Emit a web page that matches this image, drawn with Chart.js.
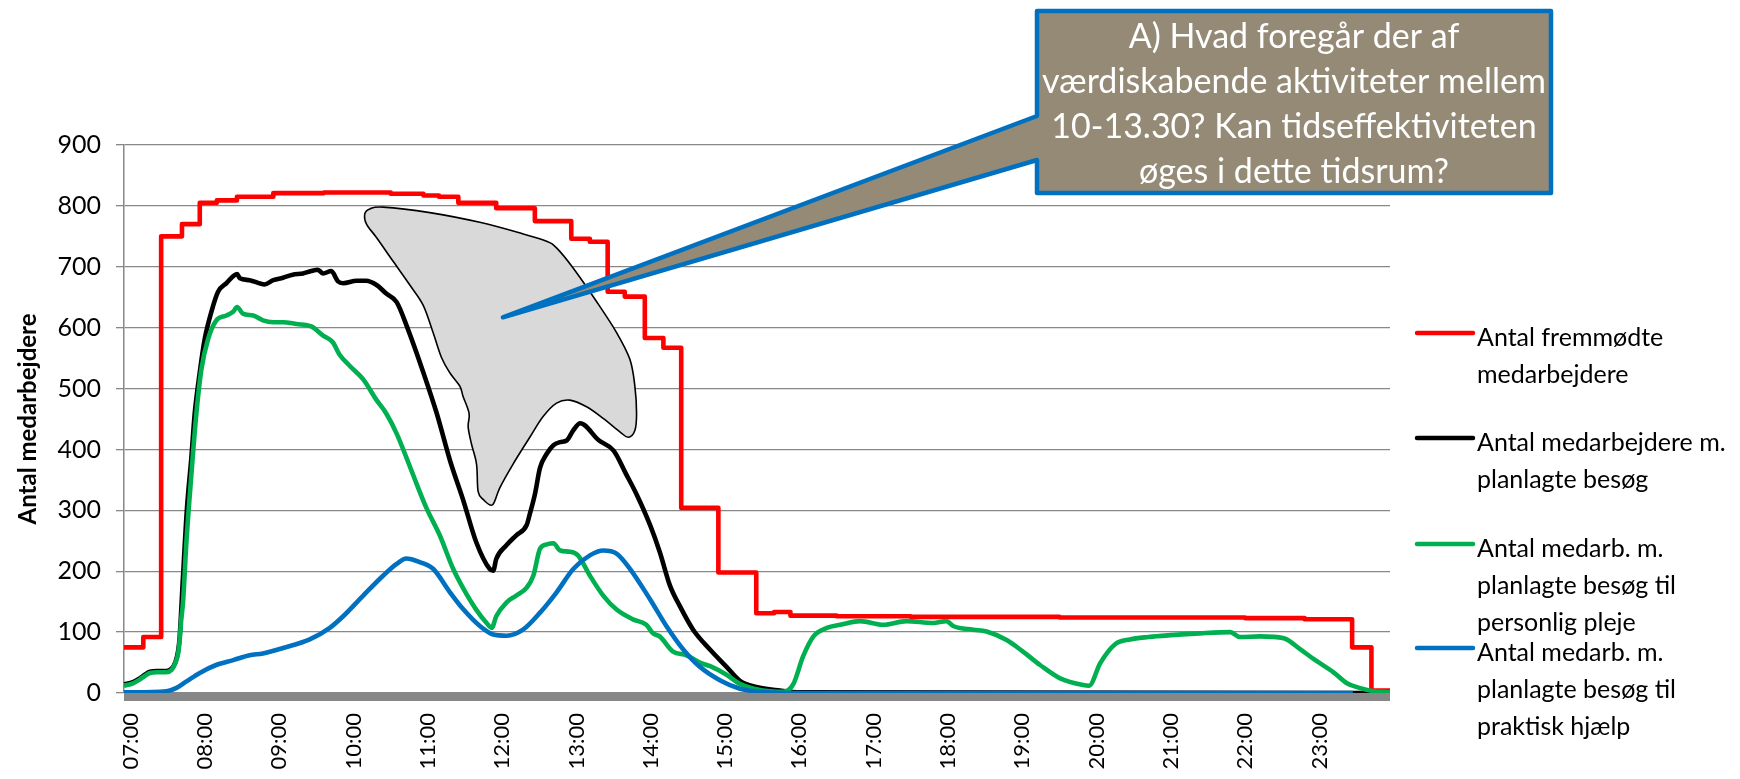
<!DOCTYPE html>
<html lang="da">
<head>
<meta charset="utf-8">
<title>Antal medarbejdere</title>
<script src="https://cdn.jsdelivr.net/npm/chart.js@4.4.1/dist/chart.umd.min.js"></script>
<style>
  html, body { margin: 0; padding: 0; background: #fff; overflow: hidden; }
  #wrap { width: 1740px; height: 779px; }
</style>
</head>
<body>
<div id="wrap"><canvas id="chart" width="1740" height="779"></canvas></div>
<script>
// --- Akser ---
const tickLabels = ['07:00', '08:00', '09:00', '10:00', '11:00', '12:00', '13:00', '14:00', '15:00',
  '16:00', '17:00', '18:00', '19:00', '20:00', '21:00', '22:00', '23:00'];
const yTitle = 'Antal medarbejdere';

// --- Serier (tid i timer, antal) ---
const legendLabels = [
  ['Antal fremmødte', 'medarbejdere'],
  ['Antal medarbejdere m.', 'planlagte besøg'],
  ['Antal medarb. m.', 'planlagte besøg til', 'personlig pleje'],
  ['Antal medarb. m.', 'planlagte besøg til', 'praktisk hjælp']
];

const redTimes = [6.91, 7.17, 7.41, 7.69, 7.93, 8.16, 8.43, 8.92, 9.6, 10.5, 10.94, 11.15, 11.41, 11.92,
  12.44, 12.93, 13.18, 13.42, 13.65, 13.92, 14.17, 14.41, 14.91, 15.42, 15.66, 15.88, 16.5, 17.5, 19.5,
  22.0, 22.8, 23.44, 23.70, 23.95];
const redValues = [75, 92, 750, 770, 805, 809, 815, 821, 822, 820, 817, 815, 805, 796,
  775, 746, 741, 659, 651, 583, 567, 304, 198, 131, 133, 127, 126, 125, 124,
  123, 121, 75, 4, 4];

const blackTimes = [6.91, 7.03, 7.12, 7.19, 7.26, 7.35, 7.48, 7.55, 7.6, 7.64, 7.66, 7.705, 7.758, 7.817,
  7.862, 7.929, 7.996, 8.086, 8.176, 8.288, 8.432, 8.47, 8.6, 8.8, 8.92, 9.05, 9.18, 9.32, 9.43, 9.52,
  9.59, 9.70, 9.79, 9.86, 10.04, 10.17, 10.31, 10.44, 10.58, 10.73, 10.94, 11.12, 11.30, 11.48, 11.65,
  11.83, 11.88, 11.92, 12.06, 12.19, 12.33, 12.37, 12.44, 12.51, 12.6, 12.69, 12.78, 12.87, 12.96, 13.05,
  13.3, 13.5, 13.67, 13.81, 13.99, 14.12, 14.26, 14.39, 14.57, 14.8, 15.02, 15.2, 15.42, 15.74, 16.0, 23.95];
const blackValues = [14, 18, 24, 30, 35, 36, 36, 40, 50, 70, 93, 193, 304, 387,
  459, 526, 581, 626, 659, 673, 688, 681, 678, 671, 678, 682, 687, 689, 693, 695,
  689, 693, 676, 673, 677, 677, 670, 656, 642, 598, 526, 459, 381, 315, 248,
  204, 201, 220, 243, 259, 276, 293, 326, 370, 393, 407, 412, 415, 432, 443,
  415, 398, 359, 326, 276, 232, 176, 143, 104, 71, 43, 20, 10, 4, 1, 0];

const greenTimes = [6.91, 7.03, 7.12, 7.19, 7.26, 7.35, 7.48, 7.55, 7.59, 7.64, 7.66, 7.68, 7.705, 7.75,
  7.817, 7.884, 7.951, 8.041, 8.153, 8.288, 8.378, 8.432, 8.51, 8.65, 8.78, 8.92, 9.05, 9.23, 9.43, 9.59,
  9.72, 9.81, 9.95, 10.13, 10.31, 10.44, 10.58, 10.71, 10.85, 10.98, 11.16, 11.34, 11.48, 11.65, 11.79,
  11.86, 11.92, 12.06, 12.19, 12.33, 12.42, 12.51, 12.6, 12.69, 12.78, 12.91, 13.02, 13.18, 13.36, 13.54,
  13.76, 13.94, 14.03, 14.12, 14.30, 14.48, 14.66, 14.80, 15.02, 15.2, 15.47, 15.78, 15.92, 16.05, 16.19,
  16.37, 16.55, 16.82, 17.13, 17.44, 17.8, 17.98, 18.07, 18.34, 18.52, 18.79, 19.01, 19.24, 19.51, 19.82,
  19.9, 20.05, 20.25, 20.45, 20.7, 21.0, 21.39, 21.8, 21.93, 22.2, 22.52, 22.74, 22.92, 23.19, 23.37,
  23.55, 23.73, 23.95];
const greenValues = [12, 16, 22, 28, 33, 34, 34, 38, 46, 66, 88, 120, 150, 248,
  359, 459, 531, 581, 612, 620, 626, 634, 623, 620, 612, 609, 609, 606, 602, 587,
  576, 556, 537, 515, 481, 459, 426, 387, 343, 304, 259, 204, 171, 137, 115,
  107, 126, 149, 160, 173, 193, 237, 244, 246, 234, 232, 226, 193, 160, 137,
  121, 112, 98, 93, 68, 62, 50, 44, 30, 15, 5, 2, 15, 60, 93,
  107, 112, 118, 112, 118, 115, 118, 110, 104, 101, 87, 68, 46, 24, 13,
  12, 49, 80, 88, 92, 95, 98, 100, 92, 93, 90, 72, 56, 34, 16,
  8, 3, 1];

const blueTimes = [6.91, 7.48, 7.61, 7.75, 7.93, 8.15, 8.38, 8.6, 8.78, 9.05, 9.41, 9.68, 9.86, 10.13,
  10.40, 10.58, 10.71, 10.89, 11.07, 11.30, 11.48, 11.70, 11.88, 12.06, 12.28, 12.51, 12.73, 12.96, 13.18,
  13.36, 13.54, 13.72, 13.99, 14.21, 14.44, 14.66, 14.93, 15.2, 15.47, 16.0, 23.45];
const blueValues = [1, 3, 8, 19, 33, 46, 54, 62, 65, 74, 88, 107, 126, 160,
  193, 212, 221, 215, 204, 165, 137, 110, 96, 94, 104, 132, 165, 204, 226,
  234, 229, 204, 154, 110, 71, 43, 21, 7, 2, 0, 0];

// --- Markering og kommentar (i timer / antal) ---
const blobHours = [10.151, 10.218, 10.397, 11.026, 11.699, 12.282, 12.597, 12.732, 12.955, 13.270, 13.540,
  13.719, 13.786, 13.809, 13.786, 13.696, 13.584, 13.359, 13.136, 12.911, 12.732, 12.551, 12.372, 12.147,
  11.968, 11.870, 11.744, 11.676, 11.655, 11.587, 11.542, 11.555, 11.474, 11.430, 11.295, 11.183, 11.070,
  10.936, 10.757, 10.532, 10.308, 10.174];
const blobValues = [787, 795, 798, 789, 773, 754, 742, 731, 698, 643, 592,
  548, 504, 459, 431, 420, 429, 451, 470, 481, 476, 454, 420, 376,
  337, 309, 318, 331, 376, 409, 437, 459, 487, 504, 526, 551, 592,
  637, 670, 709, 748, 770];
const calloutTip = { hour: 12.01, value: 617 };
const calloutLines = ['A) Hvad foregår der af', 'værdiskabende aktiviteter mellem',
  '10-13.30? Kan tidseffektiviteten', 'øges i dette tidsrum?'];

const FONT = 'Lato, "Open Sans", sans-serif';
Chart.defaults.font.family = FONT;
Chart.defaults.color = '#000';

function toPoints(times, values) {
  return times.map((t, i) => ({ x: t, y: values[i] }));
}

// tyk grå bund under x-aksen
const axisBand = {
  id: 'axisBand',
  beforeDatasetsDraw(chart) {
    const { ctx, chartArea: a } = chart;
    ctx.save();
    ctx.fillStyle = '#878787';
    ctx.fillRect(a.left, a.bottom, a.right - a.left, 8);
    ctx.restore();
  }
};

function smoothClosed(ctx, pts) {
  const n = pts.length;
  ctx.moveTo(pts[0].x, pts[0].y);
  for (let i = 0; i < n; i++) {
    const p0 = pts[(i - 1 + n) % n], p1 = pts[i], p2 = pts[(i + 1) % n], p3 = pts[(i + 2) % n];
    ctx.bezierCurveTo(p1.x + (p2.x - p0.x) / 6, p1.y + (p2.y - p0.y) / 6,
      p2.x - (p3.x - p1.x) / 6, p2.y - (p3.y - p1.y) / 6, p2.x, p2.y);
  }
  ctx.closePath();
}

const annotations = {
  id: 'annotations',
  afterDatasetsDraw(chart) {
    const { ctx, scales: { x, y } } = chart;
    ctx.save();

    // grå "sky" om 10-13.30
    const pts = blobHours.map((h, i) => ({ x: x.getPixelForValue(h), y: y.getPixelForValue(blobValues[i]) }));
    ctx.beginPath();
    smoothClosed(ctx, pts);
    ctx.fillStyle = '#D9D9D9';
    ctx.fill();
    ctx.lineWidth = 1.6;
    ctx.strokeStyle = '#000';
    ctx.stroke();

    // taleboble
    const box = { left: 1037, top: 11, right: 1551, bottom: 193, notchTop: 116, notchBottom: 160 };
    const tipX = x.getPixelForValue(calloutTip.hour);
    const tipY = y.getPixelForValue(calloutTip.value);
    ctx.beginPath();
    ctx.moveTo(box.left, box.top);
    ctx.lineTo(box.right, box.top);
    ctx.lineTo(box.right, box.bottom);
    ctx.lineTo(box.left, box.bottom);
    ctx.lineTo(box.left, box.notchBottom);
    ctx.lineTo(tipX, tipY);
    ctx.lineTo(box.left, box.notchTop);
    ctx.closePath();
    ctx.fillStyle = '#948A76';
    ctx.fill();
    ctx.lineWidth = 4.5;
    ctx.lineJoin = 'round';
    ctx.strokeStyle = '#0070C0';
    ctx.stroke();

    ctx.fillStyle = '#fff';
    ctx.font = '34px ' + FONT;
    ctx.textAlign = 'center';
    ctx.textBaseline = 'middle';
    const cx = (box.left + box.right) / 2;
    calloutLines.forEach((line, i) => ctx.fillText(line, cx, 37 + i * 45));
    ctx.restore();
  }
};

// legende til højre
const sideLegend = {
  id: 'sideLegend',
  afterDraw(chart) {
    const { ctx } = chart;
    const tops = [338, 443, 549, 653];
    ctx.save();
    ctx.font = '25px ' + FONT;
    ctx.textAlign = 'left';
    ctx.textBaseline = 'middle';
    chart.data.datasets.forEach((ds, i) => {
      const top = tops[i];
      ctx.beginPath();
      ctx.moveTo(1417, top - 5);
      ctx.lineTo(1473, top - 5);
      ctx.lineWidth = 4.5;
      ctx.lineCap = 'round';
      ctx.strokeStyle = ds.borderColor;
      ctx.stroke();
      ctx.fillStyle = '#000';
      legendLabels[i].forEach((txt, k) => ctx.fillText(txt, 1477, top + k * 37));
    });
    ctx.restore();
  }
};

const lineStyle = { pointRadius: 0, borderWidth: 4.6, borderJoinStyle: 'round', fill: false };

new Chart(document.getElementById('chart'), {
  type: 'line',
  data: {
    datasets: [
      { ...lineStyle, label: legendLabels[0].join(' '), data: toPoints(redTimes, redValues),
        borderColor: '#FF0000', stepped: true, order: 4 },
      { ...lineStyle, label: legendLabels[1].join(' '), data: toPoints(blackTimes, blackValues),
        borderColor: '#000000', cubicInterpolationMode: 'monotone', order: 3 },
      { ...lineStyle, label: legendLabels[2].join(' '), data: toPoints(greenTimes, greenValues),
        borderColor: '#00B050', cubicInterpolationMode: 'monotone', order: 2 },
      { ...lineStyle, label: legendLabels[3].join(' '), data: toPoints(blueTimes, blueValues),
        borderColor: '#0070C0', cubicInterpolationMode: 'monotone', order: 1 }
    ]
  },
  options: {
    responsive: false,
    animation: false,
    layout: { padding: { top: 145, right: 350, left: 0, bottom: 0 } },
    plugins: { legend: { display: false }, tooltip: { enabled: false } },
    scales: {
      x: {
        type: 'linear',
        min: 6.91,
        max: 23.95,
        grid: { display: false },
        border: { display: false },
        ticks: {
          stepSize: 1,
          includeBounds: false,
          autoSkip: false,
          minRotation: 90,
          maxRotation: 90,
          padding: 12,
          font: { size: 22 },
          callback: v => tickLabels[Math.round(v) - 7] || ''
        },
        afterFit: s => { s.height = 86; }
      },
      y: {
        min: 0,
        max: 900,
        ticks: { stepSize: 100, padding: 15, font: { size: 25 } },
        grid: { color: '#888', lineWidth: 1.3, tickLength: 8 },
        border: { color: '#888', width: 1.5 },
        title: { display: true, text: yTitle, font: { size: 24, weight: 'bold' }, padding: { top: 14, bottom: 0 } },
        afterFit: s => { s.width = 124; }
      }
    }
  },
  plugins: [axisBand, annotations, sideLegend]
});
</script>
</body>
</html>
